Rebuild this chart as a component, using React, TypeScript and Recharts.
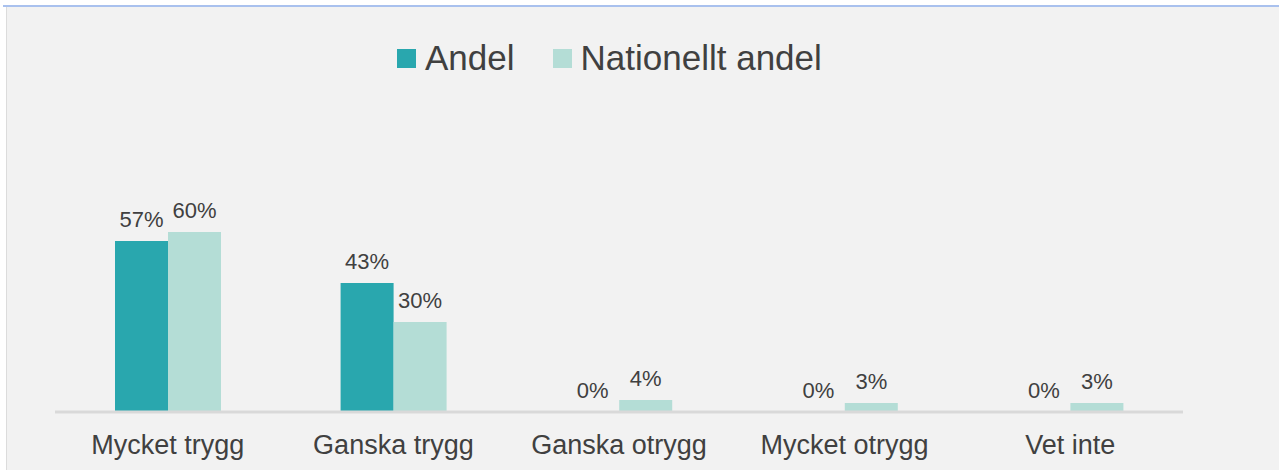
import { Bar, BarChart, LabelList, Legend, XAxis, YAxis } from "recharts";

const CATEGORIES = ["Mycket trygg", "Ganska trygg", "Ganska otrygg", "Mycket otrygg", "Vet inte"];
const ANDEL = [57, 43, 0, 0, 0];
const NATIONELLT = [60, 30, 4, 3, 3];

const SERIES = [
  { key: "Andel", color: "#29a7ae" },
  { key: "Nationellt andel", color: "#b4ddd6" },
];

const FONT = "'Liberation Sans', Arial, sans-serif";
const TEXT = "#404040";

const rows = CATEGORIES.map((c, i) => ({
  cat: c,
  Andel: ANDEL[i],
  "Nationellt andel": NATIONELLT[i],
}));

function LegendBox() {
  return (
    <div style={{ display: "flex", alignItems: "center", height: 40, fontFamily: FONT }}>
      {SERIES.map((s, i) => (
        <div key={s.key} style={{ display: "flex", alignItems: "center", marginLeft: i ? 38 : 0 }}>
          <span style={{ width: 19, height: 19, background: s.color, display: "inline-block", marginRight: 9 }} />
          <span style={{ fontSize: 35, color: TEXT, lineHeight: "40px" }}>{s.key}</span>
        </div>
      ))}
    </div>
  );
}

function ValueLabel(p: any) {
  const x = Number(p.x) + Number(p.width) / 2;
  const y = Number(p.y) - 14;
  return (
    <text x={x} y={y} textAnchor="middle" fill={TEXT} fontSize={22} fontFamily={FONT}>
      {`${p.value}%`}
    </text>
  );
}

export default function App() {
  return (
    <div style={{ position: "absolute", left: 0, top: 0, width: 1279, height: 470, background: "#fff" }}>
      <div style={{ position: "absolute", left: 3, top: 5, width: 1276, height: 2, background: "#a9c1ee" }} />
      <div style={{ position: "absolute", left: 6, top: 7, width: 1273, height: 463, background: "#f2f2f2", borderLeft: "1px solid #dcdcdc" }} />
      <div style={{ position: "absolute", left: 0, top: 0 }}>
        <BarChart width={1279} height={470} data={rows} barSize={53} barGap={0}
                  margin={{ top: 72, right: 96, bottom: 18, left: 55 }}>
          <Legend verticalAlign="top" content={<LegendBox />} wrapperStyle={{ left: 397, top: 38, width: "auto" }} />
          <XAxis dataKey="cat" height={40} tickLine={false} tickSize={0} tickMargin={23}
                 axisLine={{ stroke: "#d9d9d9", strokeWidth: 3 }}
                 tick={{ fill: TEXT, fontSize: 27, fontFamily: FONT }} />
          <YAxis hide domain={[0, 100]} />
          {SERIES.map((s) => (
            // tiny minPointSize keeps 0% bars (and their labels) in the chart
            <Bar key={s.key} dataKey={s.key} fill={s.color} minPointSize={0.01} isAnimationActive={false}>
              <LabelList dataKey={s.key} position="top" content={ValueLabel} />
            </Bar>
          ))}
        </BarChart>
      </div>
    </div>
  );
}
